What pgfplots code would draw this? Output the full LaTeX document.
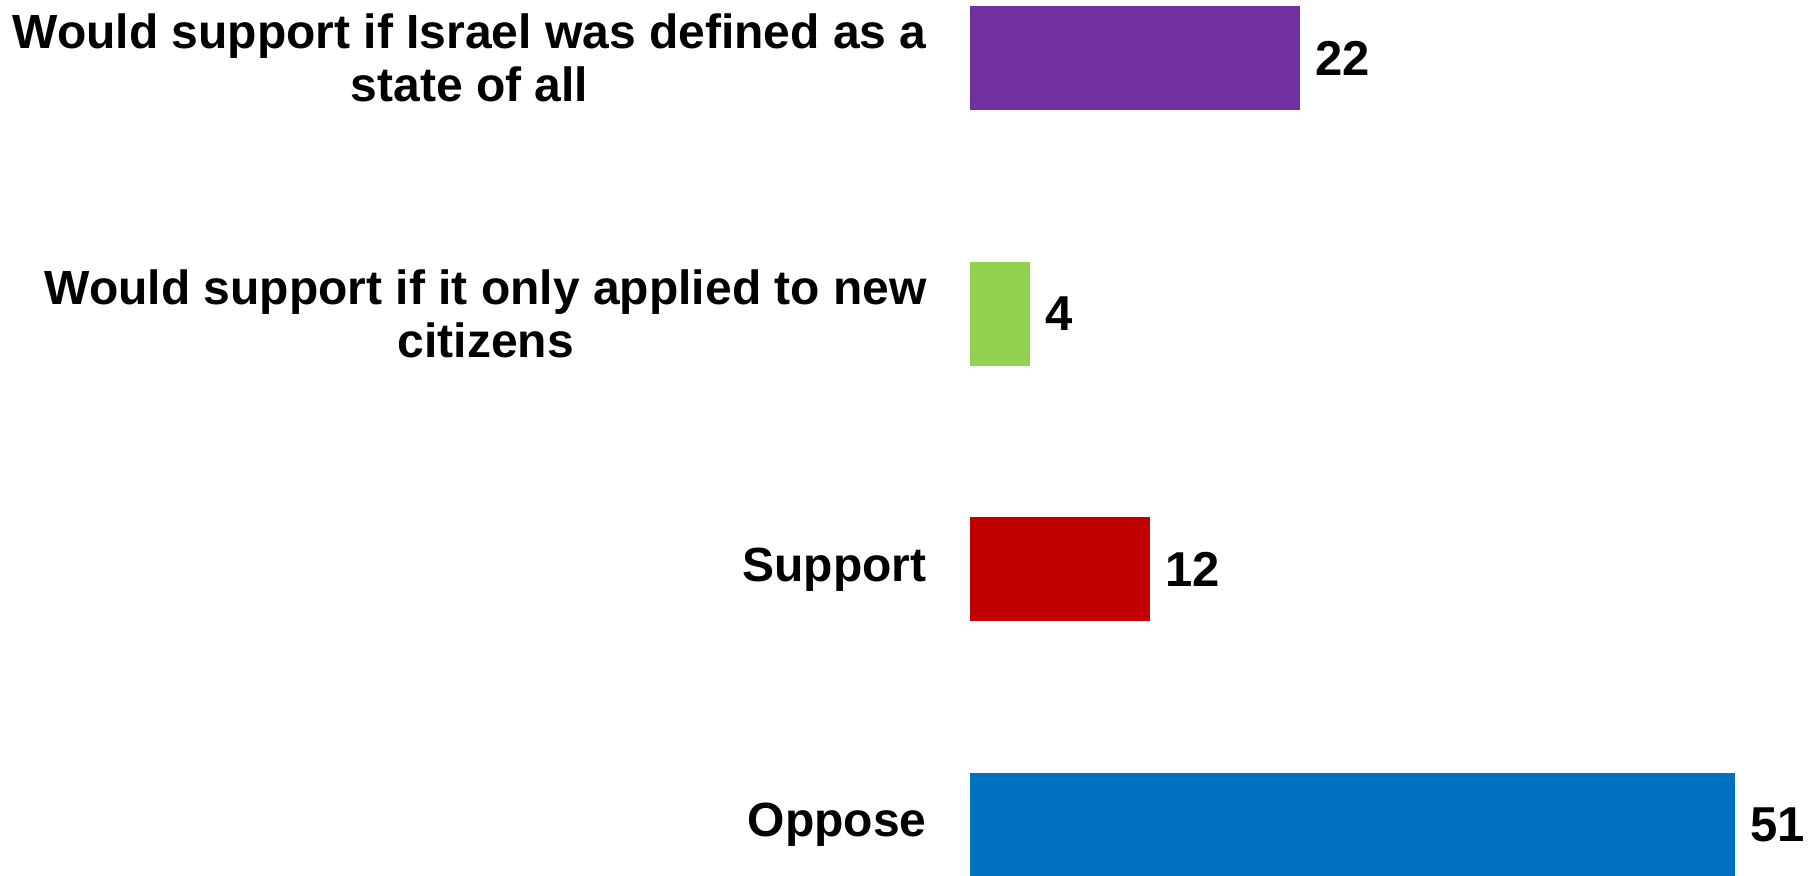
\documentclass[border=0pt]{standalone}
\usepackage{fontspec}
\setmainfont{Liberation Sans}
\usepackage{pgfplots}
\pgfplotsset{compat=1.18}
\definecolor{cpurple}{HTML}{7030A0}
\definecolor{cgreen}{HTML}{92D050}
\definecolor{cred}{HTML}{C00000}
\definecolor{cblue}{HTML}{0070C0}
\newcommand{\lblfont}{\bfseries\fontsize{24}{26.5}\selectfont}
\newcommand{\numfont}{\bfseries\fontsize{24.5}{28}\selectfont}
\begin{document}
\begin{tikzpicture}
\begin{axis}[
  at={(0,0)}, anchor=south west,
  xbar, scale only axis,
  width=423pt, height=437.5pt,
  xmin=0, xmax=56.4, ymin=-0.195, ymax=3.227,
  bar width=52pt, bar shift=0pt,
  axis line style={draw=none},
  major tick length=0pt,
  xtick=\empty,
  ytick={0,1,2,3},
  yticklabels={Oppose,Support,{Would support if it only applied to new\\citizens},{Would support if Israel was defined as a\\state of all}},
  yticklabel style={align=center, font=\lblfont, inner sep=0pt, xshift=-21.5pt},
  nodes near coords,
  /pgf/number format/assume math mode=true,
  nodes near coords style={font=\numfont, anchor=west, inner sep=0pt, xshift=7.5pt, text=black},
]
\addplot[draw=none, fill=cblue] coordinates {(51,0)};
\addplot[draw=none, fill=cred] coordinates {(12,1)};
\addplot[draw=none, fill=cgreen] coordinates {(4,2)};
\addplot[draw=none, fill=cpurple] coordinates {(22,3)};
\end{axis}
\pgfresetboundingbox
\useasboundingbox (-485pt,0) rectangle (423pt,437.5pt);
\end{tikzpicture}
\end{document}
